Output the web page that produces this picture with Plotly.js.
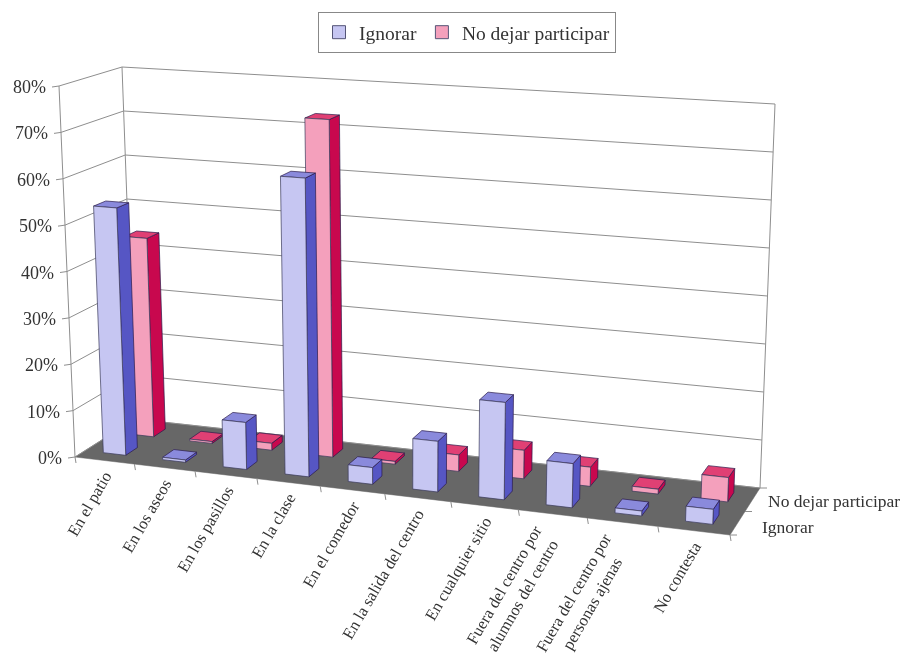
<!DOCTYPE html>
<html><head><meta charset="utf-8">
<script src="https://cdn.plot.ly/plotly-3.0.1.min.js"></script>
<style>html,body{margin:0;padding:0;background:#fff}#chart{width:904px;height:658px;filter:blur(0.7px)}</style>
</head><body><div id="chart"></div>
<script>
const categories = ["En el patio","En los aseos","En los pasillos","En la clase","En el comedor","En la salida del centro","En cualquier sitio","Fuera del centro por<br>alumnos del centro","Fuera del centro por<br>personas ajenas","No contesta"];
const ignorar = [53.5,0.5,10,63,3.5,10.5,20,9,1,3];
const noDejar = [44,0.4,1.5,73,0.6,3.5,6,4,1,5];
const yTicks = [0,10,20,30,40,50,60,70,80];
const seriesNames = ["Ignorar","No dejar participar"];

// pixel corners of the 3D box: [front/back][left/right][floor/top]
const box = {
  flb:[75,457], frb:[730,535], blb:[135,419], brb:[760,488],
  flt:[59,86],  frt:[746,130], blt:[122,67],  brt:[775,104]
};
const yMax = 80, persp = 1.114;
const fu = t => t/(t+persp*(1-t));
const mix = (a,b,t)=>[a[0]+(b[0]-a[0])*t, a[1]+(b[1]-a[1])*t];
function P(cat, v, val){
  const u = fu(cat/categories.length), w = val/yMax;
  const fb = mix(box.flb,box.frb,u), bb = mix(box.blb,box.brb,u);
  const ft = mix(box.flt,box.frt,u), bt = mix(box.blt,box.brt,u);
  return mix(mix(fb,bb,v), mix(ft,bt,v), w);
}
const traces = [];
function poly(pts, fill, line, lw){
  traces.push({type:'scatter',mode:'lines',x:pts.map(p=>p[0]).concat(pts[0][0]),y:pts.map(p=>p[1]).concat(pts[0][1]),
    fill:'toself',fillcolor:fill,line:{color:line||fill,width:lw===undefined?0.7:lw},showlegend:false,hoverinfo:'skip'});
}
function lines(segs, color, width){
  const x=[],y=[];
  segs.forEach(s=>{s.forEach(p=>{x.push(p[0]);y.push(p[1]);});x.push(null);y.push(null);});
  traces.push({type:'scatter',mode:'lines',x,y,line:{color,width},showlegend:false,hoverinfo:'skip'});
}
const off=(p,dx,dy)=>[p[0]+dx,p[1]+dy];
const n = categories.length;

// floor, walls
poly([P(0,0,0),P(n,0,0),P(n,1,0),P(0,1,0)],'#676767','#676767',0.5);
const grid=[];
yTicks.forEach(t=>{ grid.push([P(0,0,t),P(0,1,t),P(n,1,t)]); });
grid.push([P(0,0,0),P(0,0,yMax)]);
grid.push([P(0,1,0),P(0,1,yMax)]);
grid.push([P(n,1,0),P(n,1,yMax)]);
yTicks.forEach(t=>{ grid.push([P(0,0,t),off(P(0,0,t),-7,1)]); });
for(let i=0;i<=n;i++) grid.push([P(i,0,0),off(P(i,0,0),1,6)]);
[0,0.5,1].forEach(v=>grid.push([P(n,v,0),off(P(n,v,0),7,0)]));
lines(grid,'#8e8e8e',1);

// bars: back row first
const barW = 0.38, barD = 0.2;
function bar(i, v0, val, cols){
  const a=i+0.5-barW/2, b=i+0.5+barW/2, v1=v0+barD;
  poly([P(b,v0,0),P(b,v1,0),P(b,v1,val),P(b,v0,val)],cols[1],'#2a1a4a');
  poly([P(a,v0,val),P(b,v0,val),P(b,v1,val),P(a,v1,val)],cols[2],'#2a1a4a');
  poly([P(a,v0,0),P(b,v0,0),P(b,v0,val),P(a,v0,val)],cols[0],'#3a3a5a');
}
const blue=['#c6c6f2','#5656c4','#8a8adc'], pink=['#f4a0bc','#c8084e','#e04074'];
noDejar.forEach((val,i)=>bar(i,0.65,val,pink));
ignorar.forEach((val,i)=>bar(i,0.17,val,blue));

// legend entries
[[seriesNames[0],blue[0]],[seriesNames[1],pink[0]]].forEach(e=>{
  traces.push({type:'scatter',mode:'markers',x:[null],y:[null],name:e[0],
    marker:{symbol:'square',size:13,color:e[1],line:{color:'#555577',width:1}}});
});

const serif='"Liberation Serif", serif', txt='#333';
const ann=[];
yTicks.forEach(t=>{
  const p=P(0,0,t);
  ann.push({x:p[0]-11,y:p[1]+1,text:t+'%',showarrow:false,xanchor:'right',yanchor:'middle',font:{family:serif,size:18,color:txt}});
});
categories.forEach((c,i)=>{
  const p=P(i+0.5,0,0);
  ann.push({x:p[0]+14,y:p[1]+5,text:c,showarrow:false,textangle:-60,xanchor:'right',yanchor:'top',align:'center',font:{family:serif,size:16.5,color:txt}});
});
ann.push({x:766,y:501,text:seriesNames[1],showarrow:false,xanchor:'left',yanchor:'middle',font:{family:serif,size:17.5,color:txt}});
ann.push({x:760,y:527,text:seriesNames[0],showarrow:false,xanchor:'left',yanchor:'middle',font:{family:serif,size:17.5,color:txt}});

const hidden={visible:false,fixedrange:true};
Plotly.newPlot('chart',traces,{
  width:904,height:658,margin:{l:0,r:0,t:0,b:0},paper_bgcolor:'#fff',plot_bgcolor:'#fff',
  xaxis:{...hidden,range:[0,904]},yaxis:{...hidden,range:[658,0]},
  annotations:ann,
  legend:{orientation:'h',x:318/904,y:1-12/658,xanchor:'left',yanchor:'top',bgcolor:'#fff',bordercolor:'#888',borderwidth:1,
    font:{family:serif,size:19.5,color:txt},itemwidth:30}
},{displayModeBar:false,staticPlot:true});
</script></body></html>
